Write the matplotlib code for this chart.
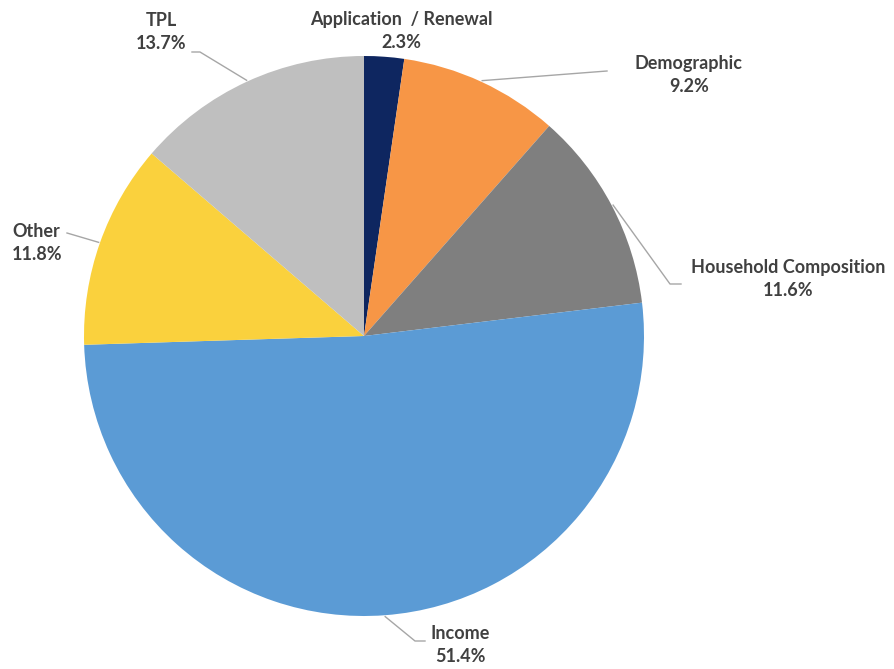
import matplotlib.pyplot as plt
import numpy as np

# data
labels = ['Application  / Renewal', 'Demographic', 'Household Composition',
          'Income', 'Other', 'TPL']
values = [2.3, 9.2, 11.6, 51.4, 11.8, 13.7]
colors = ['#0E2660', '#F79646', '#7F7F7F', '#5B9BD5', '#FAD13D', '#BFBFBF']

W, H = 894, 669
cx, cy, R = 364, 336, 280

def px(x, y):
    # pixel position in the picture -> data coords (pie radius = 1)
    return (x - cx) / R, (cy - y) / R

fig = plt.figure(figsize=(W / 100, H / 100), dpi=100)
ax = fig.add_axes([(cx - R) / W, (H - cy - R) / H, 2 * R / W, 2 * R / H])
wedges, _ = ax.pie(values, colors=colors, startangle=90, counterclock=False,
                   radius=1, wedgeprops=dict(linewidth=0))
ax.set_xlim(-1, 1)
ax.set_ylim(-1, 1)
ax.set_aspect('equal')
ax.axis('off')

# label text positions (two-line block) and leader elbows
text_pos = [(401, 31), (689, 75), (788, 279), (460, 645), (12, 243), (161, 32)]
aligns = ['center', 'center', 'center', 'center', 'left', 'center']
elbows = [None, [(607, 71)], [(670, 284), (681, 284)], [(415, 641), (425, 641)],
          [(67, 233)], [(200, 52), (192, 52)]]

tfont = dict(family=['Lato', 'DejaVu Sans'], fontsize=13, fontweight='bold',
             color='#404040', linespacing=1.4)

for w, lab, val, tp, al, el in zip(wedges, labels, values, text_pos, aligns, elbows):
    ang = np.deg2rad((w.theta1 + w.theta2) / 2)
    x0, y0 = np.cos(ang), np.sin(ang)
    if el is not None:
        pts = [(x0 * 1.005, y0 * 1.005)] + [px(*p) for p in el]
        xs, ys = zip(*pts)
        ax.plot(xs, ys, color='#A6A6A6', lw=1, clip_on=False)
    tx, ty = px(*tp)
    ax.text(tx, ty, f'{lab}\n{val}%', ha=al, va='center', multialignment=al, **tfont)

fig.savefig('out.png', dpi=100, facecolor='white')
